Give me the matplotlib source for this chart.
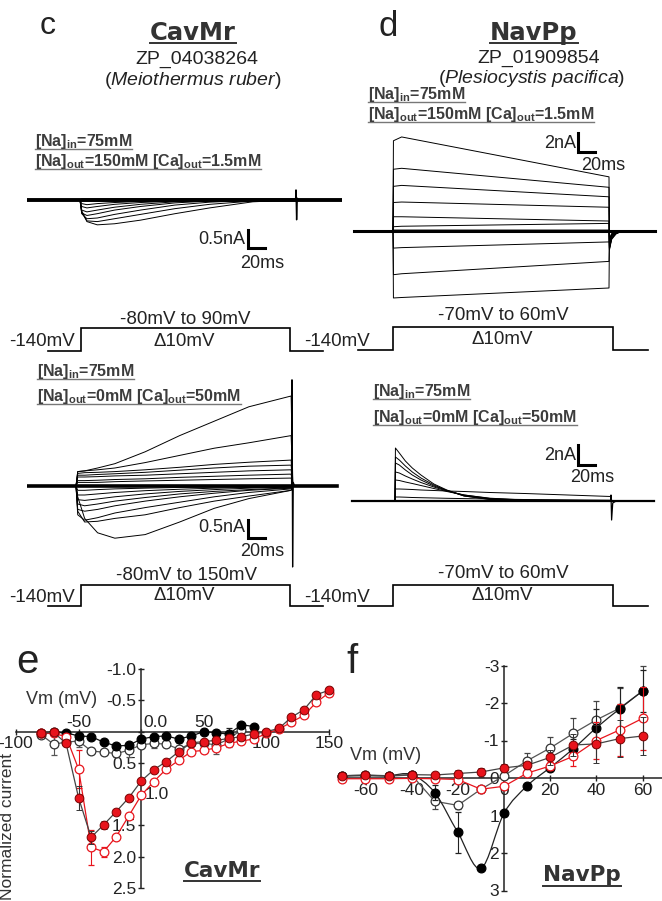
import numpy as np
import matplotlib
matplotlib.use('Agg')
import matplotlib.pyplot as plt
from matplotlib.path import Path
from matplotlib.patches import PathPatch

plt.rcParams['font.family'] = ['Liberation Sans', 'DejaVu Sans']
plt.rcParams['mathtext.fontset'] = 'custom'
plt.rcParams['mathtext.rm'] = 'Liberation Sans'
plt.rcParams['mathtext.bf'] = 'Liberation Sans:bold'
plt.rcParams['mathtext.it'] = 'Liberation Sans:italic'

# ===================== DATA =====================
# --- panel c, top: CavMr, [Na]out=150 mM (time ms, current nA) ---
C1_T = [-62, 0, 2, 8, 20, 40, 70, 110, 150, 200, 249, 250, 302]
C1_SWEEPS = [
    [0, 0, -0.30, -0.60, -0.69, -0.66, -0.56, -0.38, -0.22, -0.05, 0, 0, 0],
    [0, 0, -0.35, -0.58, -0.60, -0.52, -0.40, -0.24, -0.12, -0.03, 0, 0, 0],
    [0, 0, -0.38, -0.52, -0.50, -0.40, -0.28, -0.14, -0.06, -0.01, 0, 0, 0],
    [0, 0, -0.36, -0.43, -0.38, -0.28, -0.18, -0.08, -0.03, 0, 0, 0, 0],
    [0, 0, -0.28, -0.33, -0.28, -0.20, -0.12, -0.05, -0.02, 0, 0, 0, 0],
    [0, 0, -0.18, -0.22, -0.18, -0.12, -0.07, -0.03, -0.01, 0, 0, 0, 0],
    [0, 0, -0.10, -0.13, -0.10, -0.07, -0.04, -0.02, 0, 0, 0, 0, 0],
    [0, 0, 0.03, 0.03, 0.03, 0.03, 0.03, 0.03, 0.03, 0.03, 0.03, 0, 0],
    [0, 0, -0.03, -0.03, -0.03, -0.03, -0.03, -0.03, -0.03, -0.03, -0.03, 0, 0],
]
C1_SPIKE_T = [249.5, 250, 250.7, 251.5, 253]
C1_SPIKE_I = [0, 0.28, -0.55, 0.05, 0]

# --- panel c, bottom: CavMr, [Na]out=0 mM [Ca]out=50 mM ---
C2_T = [-62, 0, 2, 10, 25, 45, 80, 120, 160, 200, 249, 251, 302]
C2_SWEEPS = [
    [0, 0, 0.40, 0.42, 0.50, 0.62, 0.95, 1.40, 1.80, 2.20, 2.50, 0, 0],
    [0, 0, 0.40, 0.42, 0.45, 0.50, 0.65, 0.85, 1.05, 1.20, 1.40, 0, 0],
    [0, 0, 0.35, 0.37, 0.38, 0.40, 0.45, 0.52, 0.60, 0.66, 0.72, 0, 0],
    [0, 0, 0.30, 0.30, 0.32, 0.34, 0.38, 0.44, 0.50, 0.55, 0.58, 0, 0],
    [0, 0, 0.25, 0.25, 0.26, 0.28, 0.30, 0.34, 0.38, 0.42, 0.45, 0, 0],
    [0, 0, 0.15, 0.15, 0.16, 0.18, 0.20, 0.24, 0.27, 0.30, 0.33, 0, 0],
    [0, 0, 0.10, 0.10, 0.10, 0.12, 0.14, 0.16, 0.18, 0.20, 0.22, 0, 0],
    [0, 0, -0.30, -0.90, -1.30, -1.45, -1.35, -1.00, -0.62, -0.35, -0.12, 0, 0],
    [0, 0, -0.70, -1.00, -0.98, -0.90, -0.80, -0.60, -0.42, -0.28, -0.12, 0, 0],
    [0, 0, -0.80, -0.95, -0.88, -0.75, -0.60, -0.45, -0.30, -0.18, -0.08, 0, 0],
    [0, 0, -0.65, -0.70, -0.65, -0.55, -0.42, -0.30, -0.20, -0.12, -0.06, 0, 0],
    [0, 0, -0.50, -0.55, -0.50, -0.42, -0.32, -0.22, -0.15, -0.10, -0.05, 0, 0],
    [0, 0, -0.38, -0.40, -0.36, -0.30, -0.22, -0.15, -0.10, -0.06, -0.03, 0, 0],
    [0, 0, -0.25, -0.25, -0.22, -0.18, -0.13, -0.09, -0.06, -0.04, -0.02, 0, 0],
    [0, 0, -0.12, -0.12, -0.10, -0.08, -0.06, -0.04, -0.03, -0.02, -0.01, 0, 0],
]
C2_SPIKE_T = [249.5, 250, 250.7, 251.5, 253]
C2_SPIKE_I = [0, 2.95, -2.25, 0.1, 0]

# --- panel d, top: NavPp, [Na]out=150 mM ---
D1_T = [-45, 0, 0.5, 10, 250, 250.5, 253, 258, 265, 303]
D1_SWEEPS = [
    [0, 0, 9.5, 9.9, 5.7, -1.0, -0.3, -0.1, 0, 0],
    [0, 0, 6.5, 6.6, 4.6, -1.2, -0.4, -0.1, 0, 0],
    [0, 0, 4.7, 4.8, 3.6, -1.4, -0.5, -0.15, 0, 0],
    [0, 0, 3.0, 3.05, 2.5, -1.6, -0.6, -0.2, 0, 0],
    [0, 0, 1.5, 1.5, 1.05, -1.8, -0.7, -0.25, 0, 0],
    [0, 0, 0.45, 0.5, 0.8, -1.9, -0.8, -0.3, 0, 0],
    [0, 0, 0.1, 0.1, 0.1, -2.0, -0.9, -0.3, 0, 0],
    [0, 0, -0.1, -0.1, -0.1, -1.8, -0.8, -0.3, 0, 0],
    [0, 0, -1.8, -1.75, -1.15, -1.2, -0.5, -0.15, 0, 0],
    [0, 0, -4.6, -4.5, -3.2, -1.0, -0.4, -0.1, 0, 0],
    [0, 0, -7.05, -7.0, -6.0, -0.8, -0.3, -0.1, 0, 0],
]

# --- panel d, bottom: NavPp, [Na]out=0 mM [Ca]out=50 mM ---
D2_T = [-50, 0, 0.5, 5, 12, 20, 30, 45, 60, 80, 110, 150, 250, 251, 300]
D2_SWEEPS = [
    [0, 0, 5.3, 4.8, 4.0, 3.3, 2.6, 1.7, 1.1, 0.5, 0.15, 0.04, 0.02, 0, 0],
    [0, 0, 4.4, 4.1, 3.5, 2.9, 2.3, 1.6, 1.05, 0.5, 0.17, 0.05, 0.02, 0, 0],
    [0, 0, 3.8, 3.6, 3.1, 2.6, 2.1, 1.5, 1.05, 0.55, 0.2, 0.06, 0.02, 0, 0],
    [0, 0, 2.9, 2.8, 2.5, 2.2, 1.85, 1.4, 1.0, 0.6, 0.25, 0.08, 0.02, 0, 0],
    [0, 0, 2.1, 2.05, 1.9, 1.75, 1.55, 1.25, 0.95, 0.6, 0.28, 0.1, 0.03, 0, 0],
    [0, 0, 1.2, 1.2, 1.18, 1.15, 1.1, 1.05, 1.0, 0.95, 0.85, 0.75, 0.45, 0, 0],
    [0, 0, 0.4, 0.4, 0.38, 0.35, 0.33, 0.3, 0.27, 0.24, 0.2, 0.15, 0.08, 0, 0],
    [0, 0, 0.05, 0.05, 0.05, 0.05, 0.05, 0.05, 0.05, 0.05, 0.05, 0.05, 0.05, 0, 0],
]
D2_SPIKE_T = [249.5, 250, 250.7, 252, 256]
D2_SPIKE_I = [0, 0.6, -1.9, -0.2, 0]

# --- voltage protocols (ms, mV) ---
PROTO_T = [-40, 0, 0, 250, 250, 290]
PROTO_C_TOP = [-140, -140, -80, -80, -140, -140]
PROTO_D = [-140, -140, -70, -70, -140, -140]
PROTO_C_BOT = [-140, -140, -80, -80, -140, -140]

# --- panel e: CavMr normalized I-V ---
E_VM_BF = [-80, -70, -60, -50, -40, -30, -20, -10, 0, 10, 20, 30, 40, 50, 60, 70, 80, 90]
E_I_BF = [0.02, 0.01, 0.02, 0.07, 0.08, 0.17, 0.23, 0.22, 0.12, 0.08, 0.07, 0.12, 0.07, 0.0, 0.02, 0.04, -0.11, -0.08]
E_E_BF = [0.02, 0.02, 0.02, 0.03, 0.02, 0.03, 0.03, 0.03, 0.03, 0.03, 0.03, 0.03, 0.03, 0.04, 0.04, 0.1, 0.03, 0.03]
E_VM_BO = [-80, -70, -60, -50, -40, -30, -20, -10, 0, 10, 20, 30, 40, 50, 60, 70, 80]
E_I_BO = [0.05, 0.20, 0.17, 0.15, 0.31, 0.33, 0.35, 0.30, 0.21, 0.19, 0.20, 0.28, 0.19, 0.19, 0.21, 0.12, -0.03]
E_E_BO = [0.06, 0.17, 0.05, 0.10, 0.04, 0.04, 0.06, 0.10, 0.04, 0.08, 0.05, 0.10, 0.03, 0.05, 0.15, 0.12, 0.05]
E_VM_R = [-80, -70, -60, -50, -40, -30, -20, -10, 0, 10, 20, 30, 40, 50, 60, 70, 80, 90, 100, 110, 120, 130, 140, 150]
E_I_RF = [0.03, 0.01, 0.19, 1.06, 1.69, 1.49, 1.28, 1.06, 0.79, 0.61, 0.48, 0.32, 0.18, 0.16, 0.14, 0.11, 0.08, 0.04, 0.0, -0.05, -0.23, -0.35, -0.59, -0.66]
E_E_RF = [0.03, 0.02, 0.03, 0.19, 0.10, 0.06, 0.02, 0.02, 0.02, 0.02, 0.02, 0.03, 0.03, 0.03, 0.03, 0.02, 0.02, 0.02, 0.02, 0.02, 0.02, 0.02, 0.03, 0.05]
E_I_RO = [0.03, 0.03, 0.08, 0.60, 1.85, 1.92, 1.68, 1.35, 1.02, 0.80, 0.60, 0.46, 0.32, 0.30, 0.26, 0.19, 0.15, 0.12, 0.03, -0.04, -0.15, -0.26, -0.47, -0.62]
E_E_RO = [0.02, 0.02, 0.03, 0.30, 0.28, 0.08, 0.03, 0.03, 0.02, 0.02, 0.02, 0.02, 0.02, 0.02, 0.02, 0.02, 0.02, 0.02, 0.02, 0.02, 0.02, 0.03, 0.03, 0.05]

# --- panel f: NavPp normalized I-V ---
F_VM = [-70, -60, -50, -40, -30, -20, -10, 0, 10, 20, 30, 40, 50, 60]
F_I_BF = [-0.06, -0.07, -0.06, -0.09, 0.39, 1.45, 2.41, 0.94, 0.21, -0.28, -0.78, -1.34, -1.84, -2.32]
F_E_BF = [0.02, 0.02, 0.02, 0.03, 0.20, 0.55, 0.05, 0.05, 0.05, 0.10, 0.25, 0.50, 0.60, 0.55]
F_I_BO = [-0.05, -0.06, -0.05, -0.08, 0.62, 0.73, 0.30, -0.06, -0.46, -0.80, -1.19, -1.55, -1.86, -2.32]
F_E_BO = [0.02, 0.02, 0.02, 0.03, 0.20, 0.10, 0.05, 0.30, 0.20, 0.30, 0.40, 0.50, 0.55, 0.68]
F_I_RF = [-0.06, -0.08, -0.06, -0.09, -0.08, -0.12, -0.16, -0.27, -0.34, -0.55, -0.88, -0.91, -1.05, -1.12]
F_E_RF = [0.02, 0.02, 0.02, 0.03, 0.03, 0.10, 0.12, 0.10, 0.10, 0.20, 0.30, 0.50, 0.50, 0.50]
F_I_RO = [0.02, 0.02, 0.02, 0.01, 0.02, 0.04, 0.30, 0.22, -0.13, -0.32, -0.58, -1.00, -1.28, -1.59]
F_E_RO = [0.01, 0.01, 0.01, 0.01, 0.01, 0.02, 0.10, 0.05, 0.05, 0.10, 0.25, 0.50, 0.70, 0.85]

E_YTICKS = [-1.0, -0.5, 0.0, 0.5, 1.0, 1.5, 2.0, 2.5]
E_XTICKS = [-100, -50, 0, 50, 100, 150]
F_YTICKS = [-3, -2, -1, 0, 1, 2, 3]
F_XTICKS = [-60, -40, -20, 0, 20, 40, 60]

# ===================== LAYOUT =====================
W, H = 662, 901
fig = plt.figure(figsize=(W / 100, H / 100), dpi=100)
RED = '#e8141c'
TXT = '#222222'
COND = '#3c3c3c'
TITLE_FONT = ['DejaVu Sans']

tx = fig.add_axes([0, 0, 1, 1])
tx.set_xlim(0, W)
tx.set_ylim(H, 0)
tx.axis('off')


def px_axes(x0, y0, x1, y1):
    return fig.add_axes([x0 / W, 1 - y1 / H, (x1 - x0) / W, (y1 - y0) / H])


def trace_axes(box, origin, sx, sy):
    x0, y0, x1, y1 = box
    ax = px_axes(x0, y0, x1, y1)
    ax.set_xlim((x0 - origin[0]) / sx, (x1 - origin[0]) / sx)
    ax.set_ylim((origin[1] - y1) / sy, (origin[1] - y0) / sy)
    ax.axis('off')
    return ax


def draw_traces(ax, T, sweeps, lw=0.7, base_lw=2.2):
    for s in sweeps:
        ax.plot(T, s, color='black', lw=lw, solid_joinstyle='round')
    ax.plot(T, [0] * len(T), color='black', lw=base_lw)


def scale_bar(ax, px, py, origin, sx, sy, dt, di):
    t0 = (px - origin[0]) / sx
    i0 = (origin[1] - py) / sy
    ax.plot([t0, t0, t0 + dt], [i0 + di, i0, i0], color='black', lw=2.2,
            solid_joinstyle='miter', clip_on=False)


# ---- panel c top ----
o = (80, 200); sx = 0.864; sy = 36
ax = trace_axes((27, 170, 342, 260), o, sx, sy)
draw_traces(ax, C1_T, C1_SWEEPS, base_lw=2.8)
ax.plot(C1_SPIKE_T, C1_SPIKE_I, color='black', lw=1.0)
scale_bar(ax, 248, 248, o, sx, sy, 20, 0.5)

# ---- panel c bottom ----
o = (76, 486)
ax = trace_axes((27, 370, 342, 575), o, sx, sy)
draw_traces(ax, C2_T, C2_SWEEPS, base_lw=2.6)
ax.plot(C2_SPIKE_T, C2_SPIKE_I, color='black', lw=0.9)
scale_bar(ax, 248, 538, o, sx, sy, 20, 0.5)

# ---- panel d top ----
o = (393, 231); sy = 9.5
ax = trace_axes((350, 125, 658, 310), o, sx, sy)
draw_traces(ax, D1_T, D1_SWEEPS)
scale_bar(ax, 578, 152, o, sx, sy, 20, 2)

# ---- panel d bottom ----
o = (395, 501); sy = 10
ax = trace_axes((350, 430, 658, 530), o, sx, sy)
draw_traces(ax, D2_T, D2_SWEEPS, base_lw=1.6)
ax.plot(D2_SPIKE_T, D2_SPIKE_I, color='black', lw=0.9)
scale_bar(ax, 578, 465, o, sx, sy, 20, 2)


# ---- voltage protocols ----
def protocol(x_on, x_off, y_low, y_high, V, vstep):
    psx = (x_off - x_on) / 250.0
    psy = (y_low - y_high) / (vstep + 140.0)
    axp = trace_axes((x_on - 40 * psx - 2, y_high - 4, x_off + 40 * psx + 2, y_low + 4),
                     (x_on, y_low), psx, psy)
    axp.set_ylim(-140 - 4 / psy, -140 + (y_low - y_high + 4) / psy)
    axp.plot(PROTO_T, V, color='black', lw=1.2, solid_joinstyle='miter')


protocol(81, 290, 351, 328, PROTO_C_TOP, -80)
protocol(393, 613, 350, 327, PROTO_D, -70)
protocol(81, 290, 606, 585, PROTO_C_BOT, -80)
protocol(393, 613, 606, 585, PROTO_D, -70)

# ---- texts: titles ----
under = []   # (text, baseline y, colour, lw, offset)
tx.text(48, 26, 'c', fontsize=23, ha='center', va='center', color=TXT)
t = tx.text(193, 40, 'CavMr', fontsize=17.5, weight='bold', family=TITLE_FONT,
            ha='center', va='baseline', color='#333333')
under.append((t, 40, '#333333', 1.4, 3))
tx.text(197, 64, 'ZP_04038264', fontsize=14, ha='center', va='baseline', color=TXT)
tx.text(193, 85, r'($\mathit{Meiothermus\ ruber}$)', fontsize=14, ha='center', va='baseline', color=TXT)

tx.text(388, 27, 'd', fontsize=25, ha='center', va='center', color=TXT)
t = tx.text(534, 40, 'NavPp', fontsize=17.5, weight='bold', family=TITLE_FONT,
            ha='center', va='baseline', color='#333333')
under.append((t, 40, '#333333', 1.4, 3))
tx.text(539, 63, 'ZP_01909854', fontsize=14, ha='center', va='baseline', color=TXT)
tx.text(532, 83, r'($\mathit{Plesiocystis\ pacifica}$)', fontsize=14, ha='center', va='baseline', color=TXT)

# ---- condition labels ----
COND_IN = r'$\mathbf{[Na]_{in}}$=75mM'
COND_OUT_150 = r'$\mathbf{[Na]_{out}}$=150mM $\mathbf{[Ca]_{out}}$=1.5mM'
COND_OUT_0 = r'$\mathbf{[Na]_{out}}$=0mM $\mathbf{[Ca]_{out}}$=50mM'
for (x, y, s) in [(35, 146, COND_IN), (35, 166, COND_OUT_150),
                  (368, 99, COND_IN), (368, 119, COND_OUT_150),
                  (37, 376, COND_IN), (37, 401, COND_OUT_0),
                  (373, 396, COND_IN), (373, 422, COND_OUT_0)]:
    t = tx.text(x, y, s, fontsize=11.5, weight='bold', ha='left', va='baseline', color=COND)
    under.append((t, y, '#777777', 1.0, 3))

# ---- scale-bar labels ----
for (x, y, s, ha) in [(245, 240, '0.5nA', 'right'), (262, 263, '20ms', 'center'),
                      (245, 527, '0.5nA', 'right'), (262, 552, '20ms', 'center'),
                      (576, 143, '2nA', 'right'), (603, 165, '20ms', 'center'),
                      (576, 455, '2nA', 'right'), (592, 478, '20ms', 'center')]:
    tx.text(x, y, s, fontsize=13, ha=ha, va='center', color=TXT)

# ---- protocol labels ----
for (x, y, s, ha) in [(185, 319, '-80mV to 90mV', 'center'), (184, 342, '\u039410mV', 'center'),
                      (9, 341, '-140mV', 'left'), (304, 341, '-140mV', 'left'),
                      (503, 316, '-70mV to 60mV', 'center'), (502, 340, '\u039410mV', 'center'),
                      (187, 575, '-80mV to 150mV', 'center'), (184, 596, '\u039410mV', 'center'),
                      (9, 597, '-140mV', 'left'), (304, 597, '-140mV', 'left'),
                      (503, 573, '-70mV to 60mV', 'center'), (502, 595, '\u039410mV', 'center')]:
    tx.text(x, y, s, fontsize=13.5, ha=ha, va='center', color=TXT)

# ===================== panel e =====================
axE = px_axes(16, 669, 329, 888)
axE.set_xlim(-100, 150)
axE.set_ylim(2.5, -1.0)
axE.patch.set_visible(False)
for sp in ['top', 'right']:
    axE.spines[sp].set_visible(False)
axE.spines['left'].set_position(('data', 0))
axE.spines['bottom'].set_position(('data', 0))
for sp in ['left', 'bottom']:
    axE.spines[sp].set_linewidth(1.1)
    axE.spines[sp].set_color('#222222')
axE.set_xticks(E_XTICKS)
axE.set_xticklabels(['-100', '', '', '', '100', '150'])
axE.set_yticks(E_YTICKS)
axE.set_yticklabels(['-1.0', '-0.5', '', '0.5', '', '1.5', '2.0', '2.5'])
axE.tick_params(direction='inout', length=5, width=1, labelsize=12.5, pad=1, colors='#222222')
axE.text(-50, -0.03, '-50', fontsize=12.5, ha='center', va='bottom', color='#222222')
axE.text(50, -0.03, '50', fontsize=12.5, ha='center', va='bottom', color='#222222')
axE.text(1.5, -0.02, '0.0', fontsize=12.5, ha='left', va='bottom', color='#222222')
axE.text(3, 1.0, '1.0', fontsize=12.5, ha='left', va='center', color='#222222')

ms = 6.3
ek = dict(capsize=2.5, elinewidth=0.8, capthick=0.8, clip_on=False)
axE.errorbar(E_VM_BO, E_I_BO, yerr=E_E_BO, fmt='-o', color='#555555', mfc='white', mec='#333333',
             ms=ms, lw=0.9, mew=0.9, ecolor='#555555', zorder=3, **ek)
axE.errorbar(E_VM_BF, E_I_BF, yerr=E_E_BF, fmt='-o', color='#111111', mfc='black', mec='black',
             ms=ms, lw=0.9, mew=0.9, ecolor='#222222', zorder=4, **ek)
axE.errorbar(E_VM_R, E_I_RO, yerr=E_E_RO, fmt='-o', color=RED, mfc='white', mec=RED,
             ms=ms, lw=0.9, mew=0.9, ecolor=RED, zorder=5, **ek)
axE.errorbar(E_VM_R, E_I_RF, yerr=E_E_RF, fmt='-o', color='#444444', mfc=RED, mec='#7a0000',
             ms=ms, lw=0.9, mew=0.7, ecolor='#333333', zorder=6, **ek)

tx.text(27, 662, 'e', fontsize=29, ha='center', va='center', color=TXT)
tx.text(62, 700, 'Vm (mV)', fontsize=13, ha='center', va='center', color='#333333')
tx.text(8, 826, 'Normalized current', fontsize=12.5, rotation=90, ha='center', va='center', color='#333333')
t = tx.text(222, 877, 'CavMr', fontsize=15.5, weight='bold', family=TITLE_FONT,
            ha='center', va='baseline', color='#333333')
under.append((t, 877, '#333333', 1.4, 4))

# ===================== panel f =====================
f_x0, f_sx = 504, 2.31
axF = px_axes(340, 665.5, 662, 890.5)
axF.set_xlim((340 - f_x0) / f_sx, (662 - f_x0) / f_sx)
axF.set_ylim(3.0, -3.0)
axF.patch.set_visible(False)
for sp in ['top', 'right']:
    axF.spines[sp].set_visible(False)
axF.spines['left'].set_position(('data', 0))
axF.spines['bottom'].set_position(('data', 0))
for sp in ['left', 'bottom']:
    axF.spines[sp].set_linewidth(1.1)
    axF.spines[sp].set_color('#222222')
axF.set_xticks(F_XTICKS)
axF.set_xticklabels([str(v) for v in F_XTICKS])
axF.set_yticks(F_YTICKS)
axF.set_yticklabels([str(v) for v in F_YTICKS])
axF.tick_params(direction='inout', length=5, width=1, labelsize=12.5, pad=1, colors='#222222')


def catmull_path(xs, ys):
    P = np.column_stack([xs, ys]).astype(float)
    verts = [P[0]]
    codes = [Path.MOVETO]
    n = len(P)
    for i in range(n - 1):
        p0 = P[i - 1] if i > 0 else P[i]
        p1, p2 = P[i], P[i + 1]
        p3 = P[i + 2] if i + 2 < n else P[i + 1]
        c1 = p1 + (p2 - p0) / 6.0
        c2 = p2 - (p3 - p1) / 6.0
        verts += [c1, c2, p2]
        codes += [Path.CURVE4] * 3
    return Path(verts, codes)


axF.errorbar(F_VM, F_I_BO, yerr=F_E_BO, fmt='-o', color='#555555', mfc='white', mec='#333333',
             ms=ms, lw=0.9, mew=0.9, ecolor='#444444', zorder=3, **ek)
axF.add_patch(PathPatch(catmull_path(F_VM, F_I_BF), fill=False, ec='#222222', lw=0.9, zorder=4))
axF.errorbar(F_VM, F_I_BF, yerr=F_E_BF, fmt='o', color='#111111', mfc='black', mec='black',
             ms=ms, mew=0.9, ecolor='#222222', zorder=4, **ek)
axF.errorbar(F_VM, F_I_RO, yerr=F_E_RO, fmt='-o', color=RED, mfc='white', mec=RED,
             ms=ms, lw=0.9, mew=0.9, ecolor=RED, zorder=5, **ek)
axF.errorbar(F_VM, F_I_RF, yerr=F_E_RF, fmt='-o', color='#444444', mfc=RED, mec='#7a0000',
             ms=ms, lw=0.9, mew=0.7, ecolor='#333333', zorder=6, **ek)

tx.text(352, 662, 'f', fontsize=29, ha='center', va='center', color=TXT)
tx.text(386, 755, 'Vm (mV)', fontsize=13, ha='center', va='center', color='#333333')
t = tx.text(582, 881, 'NavPp', fontsize=15.5, weight='bold', family=TITLE_FONT,
            ha='center', va='baseline', color='#333333')
under.append((t, 881, '#333333', 1.4, 5))

# ---- underlines ----
fig.canvas.draw()
r = fig.canvas.get_renderer()
inv = tx.transData.inverted()
for (t, base, col, lw, gap) in under:
    bb = t.get_window_extent(r)
    (xa, _), (xb, _) = inv.transform([[bb.x0, bb.y0], [bb.x1, bb.y1]])
    tx.plot([xa, xb], [base + gap, base + gap], color=col, lw=lw)

fig.savefig('out.png', dpi=100)
